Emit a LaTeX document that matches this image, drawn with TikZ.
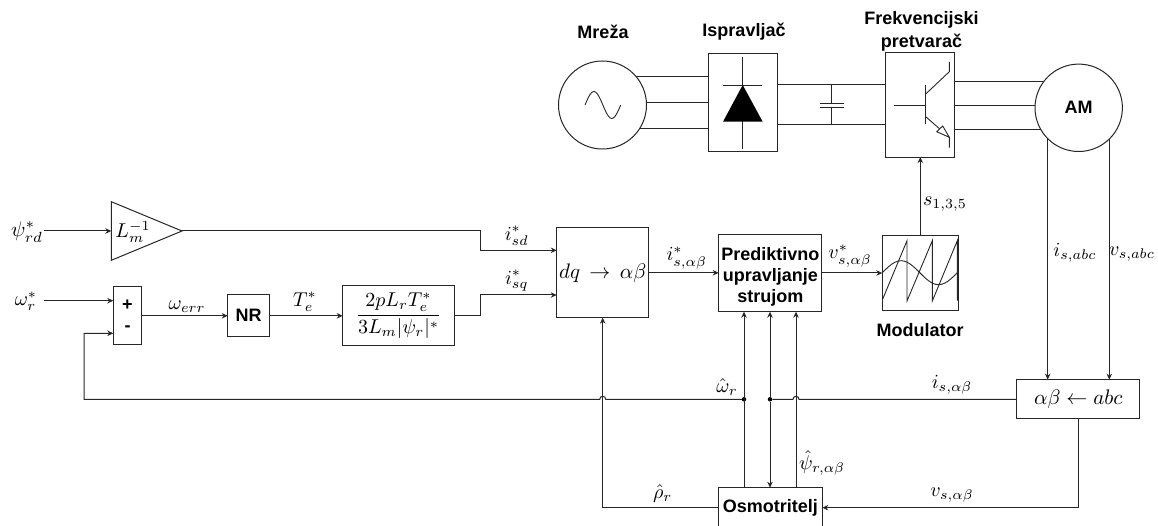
\documentclass[tikz,border=0pt]{standalone}
\usepackage{graphicx}
\usepackage[no-math]{fontspec}
\setmainfont{Liberation Sans}
\usetikzlibrary{arrows.meta}
\newcommand\mth[2][2]{\scalebox{#1}{$#2$}}
\tikzset{
  x=1pt,y=-1pt,
  arr/.style={-{Stealth[length=6pt,width=5.5pt]}},
  thin line/.style={line width=0.9pt},
  box/.style={draw,rectangle,inner sep=0pt,outer sep=0pt,align=center,line width=1pt,text=black},
  hdr/.style={font=\fontsize{18}{23}\selectfont\bfseries,align=center,inner sep=0pt,text=black},
  lab/.style={inner sep=0pt,text=black},
  dot/.style={circle,fill=black,draw=none,minimum size=4.5pt,inner sep=0pt,outer sep=0pt},
}
\begin{document}
\begin{tikzpicture}[line width=1pt,color=black!85]
\useasboundingbox (0,0) rectangle (1158,526);
\clip (0,0) rectangle (1158,526);
% --- power stage
\node[box,minimum width=69pt,minimum height=98pt] (rect) at (742.7,103) {};
\node[box,minimum width=69pt,minimum height=104.7pt] (inv) at (920.2,104.7) {};
\coordinate (g1) at (rect.west |- 0,77);
\coordinate (g2) at (rect.west |- 0,103);
\coordinate (g3) at (rect.west |- 0,128.7);
\coordinate (gc) at (602.5,105);
\draw (g1) -- (gc |- g1);
\draw (g2) -- (gc |- g2);
\draw (g3) -- (gc |- g3);
\node[box,circle,fill=white,minimum size=88pt] (grid) at (gc) {};
\node[hdr] (lgrid) at (603,32) {Mreža};
\node[hdr] (lrect) at (744,32) {Ispravljač};
\node[hdr] (linv) at (921.5,31) {Frekvencijski\\pretvarač};
% sine
\draw[thin line] plot[smooth,domain=0:1,samples=25] ({585+35.7*\x},{105-13.5*sin(360*\x)});
% diode
\draw[thin line] (742.7,57) -- (742.7,149);
\draw[thin line] (723,85) -- (762,85);
\fill[black] (742.7,85) -- (762.7,121.7) -- (723,121.7) -- cycle;
% DC link
\draw (rect.east |- 0,85) -- (inv.west |- 0,85);
\draw (rect.east |- 0,125) -- (inv.west |- 0,125);
\draw[thin line] (831.7,85) -- (831.7,103.3) (831.7,107.7) -- (831.7,125);
\draw[thin line] (820,103.3) -- (843.7,103.3) (820,107.7) -- (843.7,107.7);
% transistor
\draw[thin line] (894,105) -- (925.7,105);
\draw (925.7,85.3) -- (925.7,124.3);
\draw[thin line] (925.7,94) -- (949.3,71.7) -- (949.3,62);
\draw[thin line] (925.7,116.7) -- (949.3,137.3) -- (949.3,147.7);
\draw[thin line,fill=white] (949.3,137.3) -- (936.7,131.7) -- (942.7,126) -- cycle;
% inverter to motor
\coordinate (mc) at (1078.7,107.8);
\draw (inv.east |- 0,81.3) -- (mc |- 0,81.3);
\draw (inv.east |- 0,105.7) -- (mc |- 0,105.7);
\draw (inv.east |- 0,130) -- (mc |- 0,130);
\coordinate (a1) at (1047.7,130);
\coordinate (a2) at (1109.3,130);
\node[box,minimum width=123.3pt,minimum height=39.3pt] (abc) at (1078.3,399.3) {\mth[2.1]{\alpha\beta\leftarrow abc}};
\draw[arr] (a1) -- (abc.north -| a1);
\draw[arr] (a2) -- (abc.north -| a2);
\node[box,circle,fill=white,minimum size=87.4pt,font=\fontsize{18}{22}\selectfont\bfseries] (am) at (mc) {AM};
% --- control blocks
\node[lab] (psi) at (27,232) {\mth[2.1]{\psi^*_{rd}}};
\node[lab] (omg) at (26,301) {\mth{\omega^*_r}};
\node[box,minimum width=28.4pt,minimum height=58.3pt] (sum) at (127.5,315.8) {};
\node[hdr] (plus) at (127.5,305) {+};
\node[hdr] (minus) at (127.5,329) {-};
\node[box,minimum width=41.6pt,minimum height=41.7pt,font=\fontsize{18}{22}\selectfont\bfseries] (nr) at (248.5,315.8) {NR};
\node[box,minimum width=111.6pt,minimum height=60.3pt] (fr) at (398.5,315.8) {\mth{\displaystyle\frac{2pL_rT^*_e}{3L_m|\psi_r|^*}}};
\node[box,minimum width=92pt,minimum height=89.7pt] (dq) at (602.7,272.8) {\mth[2.1]{dq\,\rightarrow\,\alpha\beta}};
\node[box,minimum width=103.3pt,minimum height=77.4pt,font=\fontsize{18}{21}\selectfont\bfseries] (pred) at (770.3,273) {\rule{0pt}{20pt}Prediktivno\\upravljanje\\strujom};
\node[box,minimum width=76pt,minimum height=75.4pt] (mod) at (920.3,273) {};
\node[hdr] (lmod) at (920,330) {Modulator};
\node[box,minimum width=104pt,minimum height=40pt,font=\fontsize{18}{22}\selectfont\bfseries] (osm) at (770.3,507.7) {Osmotritelj};
% gain triangle
\draw (111.3,201.7) -- (182,231) -- (111.3,260.3) -- cycle;
\coordinate (gin) at (111.3,231);
\coordinate (gout) at (182,231);
\node[lab] (lgain) at (133,232) {\mth{L_m^{-1}}};
% modulator icon
\draw[thin line] (882.3,300) -- (907,240.7) -- (907,301) -- (932.3,240.7) -- (932.3,301) -- (957.3,240.7) -- (957.3,300.7);
\draw[thin line] plot[smooth,domain=0:1,samples=25] ({882.3+75*\x},{272.7-12*sin(360*\x)});
% --- connectors
\coordinate (psie) at (44,231);
\coordinate (omge) at (44,300.7);
\draw[arr] (psie) -- (gin);
\draw[arr] (omge) -- (sum.west |- omge);
\draw[arr] (sum.east |- nr.west) -- (nr.west);
\draw[arr] (nr.east) -- (fr.west);
\coordinate (c1) at (480,231);
\coordinate (c2) at (480,250.3);
\coordinate (c3) at (480,315.8);
\coordinate (c4) at (480,295);
\draw[arr] (gout) -- (c1) -- (c2) -- (dq.west |- c2);
\draw[arr] (fr.east) -- (c3) -- (c4) -- (dq.west |- c4);
\draw[arr] (dq.east) -- (pred.west |- dq.east);
\draw[arr] (pred.east) -- (mod.west);
\draw[arr] (mod.north) -- (inv.south -| mod.north);
\node[dot] (j1) at (744,399.3) {};
\node[dot] (j2) at (770,399.3) {};
\coordinate (fb1) at (84,399.3);
\coordinate (fb2) at (84,333.3);
\draw[arr] (j1) -- (605.7,399.3) .. controls (605.7,395.3) and (599.7,395.3) .. (599.7,399.3) -- (fb1) -- (fb2) -- (sum.west |- fb2);
\draw (abc.west) -- (799,399.3) .. controls (799,395.3) and (793,395.3) .. (793,399.3) -- (j2);
\draw[arr] (osm.north -| j1) -- (pred.south -| j1);
\draw[arr] (j2) -- (pred.south -| j2);
\draw[arr] (j2) -- (osm.north -| j2);
\coordinate (psix) at (796,450);
\draw[arr] (osm.north -| psix) -- (pred.south -| psix);
\draw[arr] (osm.west) -- (dq.south |- osm.west) -- (dq.south);
\coordinate (vc) at (1078.3,507.7);
\draw[arr] (abc.south) -- (vc) -- (osm.east);
% --- labels
\node[lab] (l1) at (187,306.7) {\mth{\omega_{err}}};
\node[lab] (l2) at (305,301.7) {\mth{T^*_e}};
\node[lab] (l3) at (516.7,236) {\mth{i^*_{sd}}};
\node[lab] (l4) at (516.7,281) {\mth{i^*_{sq}}};
\node[lab] (l5) at (686.7,258) {\mth{i^*_{s,\alpha\beta}}};
\node[lab] (l6) at (850,256) {\mth{v^*_{s,\alpha\beta}}};
\node[lab] (l7) at (945,204) {\mth{s_{1,3,5}}};
\node[lab] (l8) at (727,386.7) {\mth{\hat\omega_r}};
\node[lab] (l9) at (952,385) {\mth{i_{s,\alpha\beta}}};
\node[lab] (l10) at (1075,253) {\mth{i_{s,abc}}};
\node[lab] (l11) at (1132,254) {\mth{v_{s,abc}}};
\node[lab] (l12) at (952,495) {\mth{v_{s,\alpha\beta}}};
\node[lab] (l13) at (662.7,493) {\mth{\hat\rho_r}};
\node[lab] (l14) at (822,463) {\mth{\hat\psi_{r,\alpha\beta}}};
\end{tikzpicture}
\end{document}
